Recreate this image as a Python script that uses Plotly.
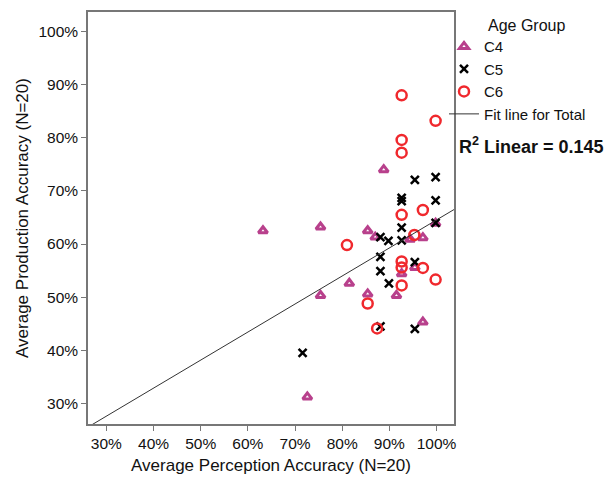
import plotly.graph_objects as go
import numpy as np

# ---- data (percent accuracy) ----
c4_perception = [63.2, 75.4, 75.4, 72.6, 81.5, 85.4, 87.0, 88.8, 85.4, 91.5, 92.6, 94.4, 95.4, 97.1, 97.1, 99.8]
c4_production = [62.5, 63.2, 50.3, 31.2, 52.6, 62.5, 61.3, 74.0, 50.6, 50.3, 54.4, 60.9, 55.6, 61.2, 45.3, 63.9]

c5_perception = [71.6, 88.1, 89.8, 92.6, 88.1, 88.1, 89.9, 88.1, 95.4, 95.4, 92.6, 92.6, 92.6, 95.4, 99.8, 99.8, 99.8]
c5_production = [39.5, 61.3, 60.6, 60.7, 57.6, 54.9, 52.6, 44.5, 44.0, 56.6, 63.1, 68.7, 68.1, 72.1, 72.6, 68.2, 64.0]

c6_perception = [81.0, 85.4, 87.4, 92.6, 92.6, 92.6, 92.6, 92.6, 92.6, 92.6, 95.3, 97.1, 97.1, 99.8, 99.8]
c6_production = [59.8, 48.8, 44.1, 88.0, 79.6, 77.2, 65.5, 56.7, 55.6, 52.2, 61.7, 66.4, 55.5, 83.2, 53.3]

fit_intercept = 0.1174
fit_slope = 0.528
r_squared = "0.145"

tick_vals = [0.3, 0.4, 0.5, 0.6, 0.7, 0.8, 0.9, 1.0]

def frac(v):
    return [a / 100.0 for a in v]

FONT = "Liberation Sans, Arial"

fig = go.Figure()

fig.add_trace(go.Scatter(
    x=frac(c4_perception), y=frac(c4_production), mode="markers", name="C4",
    marker=dict(symbol="triangle-up-open", size=8, color="#B8408C", line=dict(width=3, color="#B8408C")),
))
fig.add_trace(go.Scatter(
    x=frac(c5_perception), y=frac(c5_production), mode="markers", name="C5",
    marker=dict(symbol="x-thin-open", size=8, color="black", line=dict(width=2.5, color="black")),
))
fig.add_trace(go.Scatter(
    x=frac(c6_perception), y=frac(c6_production), mode="markers", name="C6",
    marker=dict(symbol="circle-open", size=10, color="#F0282D", line=dict(width=2.5, color="#F0282D")),
))

fx = np.array([0.2, 1.1])
fy = fit_intercept + fit_slope * fx
fig.add_trace(go.Scatter(
    x=fx, y=fy, mode="lines", name="Fit line for Total",
    line=dict(color="#333333", width=1),
))

axis_common = dict(
    tickvals=tick_vals, tickformat=".0%", ticks="outside", ticklen=5,
    tickcolor="#777777", showline=True, linecolor="#777777", linewidth=1.5,
    mirror=True, showgrid=False, zeroline=False,
    tickfont=dict(family=FONT, size=15.5, color="#111111"),
)

fig.update_layout(
    width=604, height=472,
    margin=dict(l=80, r=158, t=2, b=56),
    paper_bgcolor="white", plot_bgcolor="white",
    font=dict(family=FONT, size=16, color="#111111"),
    xaxis=dict(range=[0.261, 1.037],
               title=dict(text="Average Perception Accuracy (N=20)", standoff=8,
                          font=dict(size=17, color="#111111")),
               **axis_common),
    yaxis=dict(range=[0.261, 1.037],
               title=dict(text="Average Production Accuracy (N=20)", standoff=6,
                          font=dict(size=17, color="#111111")),
               **axis_common),
    legend=dict(
        x=0.9727, xanchor="left", y=0.956, yanchor="top",
        font=dict(size=15), itemwidth=30,
        bgcolor="rgba(0,0,0,0)",
    ),
    showlegend=True,
)

fig.add_annotation(
    xref="paper", yref="paper", x=1.199, y=0.967, xanchor="center", yanchor="middle",
    text="Age Group", showarrow=False, font=dict(size=16, color="#111111"),
)
fig.add_annotation(
    xref="paper", yref="paper", x=1.008, y=0.677, xanchor="left", yanchor="middle",
    text="<b>R<sup>2</sup> Linear = " + r_squared + "</b>", showarrow=False,
    font=dict(size=18, color="#111111"),
)

fig.write_html("out.html")
